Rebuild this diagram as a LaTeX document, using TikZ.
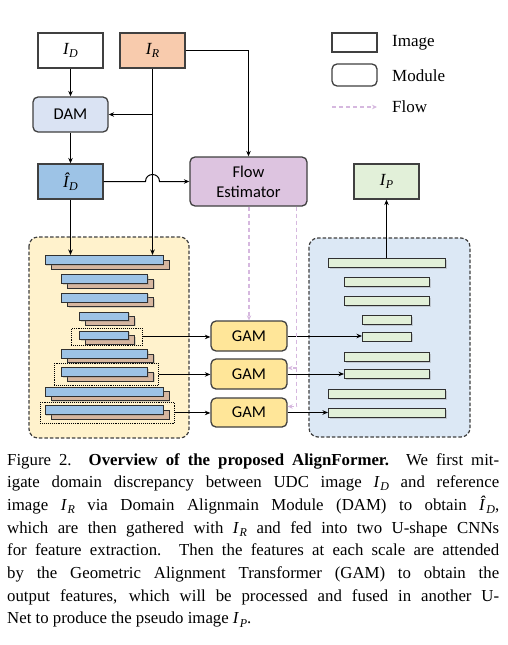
\documentclass[tikz,border=0pt]{standalone}
\usepackage{fontspec}
\setmainfont{Liberation Serif}
\newfontfamily\calibri{Carlito}
\usetikzlibrary{arrows.meta,shadows,calc}
\definecolor{bord}{HTML}{404040}
\definecolor{bord2}{HTML}{303030}
\definecolor{irc}{HTML}{F8CBAD}
\definecolor{damc}{HTML}{DAE3F3}
\definecolor{idhc}{HTML}{9DC3E6}
\definecolor{flowfill}{HTML}{DDC4E0}
\definecolor{gamc}{HTML}{FFE699}
\definecolor{yelc}{HTML}{FFF2CC}
\definecolor{bluec}{HTML}{DCE8F5}
\definecolor{greenc}{HTML}{E2F0D9}
\definecolor{brownc}{HTML}{D6B69F}
\definecolor{flowc}{HTML}{D6B8DF}
\newcommand{\capI}[1]{\textit{I}\kern0.03em\raisebox{-3.2pt}{\fontsize{12}{12}\selectfont\itshape #1}}
\newcommand{\capIh}[1]{\textit{\^{I}}\kern0.03em\raisebox{-3.2pt}{\fontsize{12}{12}\selectfont\itshape #1}}
\newcommand{\boxI}[1]{{\fontsize{17}{17}\selectfont\itshape I}\kern0.03em\raisebox{-3.5pt}{\fontsize{12}{12}\selectfont\itshape #1}}
\newcommand{\boxIh}[1]{{\fontsize{17}{17}\selectfont\itshape \^{I}}\kern0.03em\raisebox{-3.5pt}{\fontsize{12}{12}\selectfont\itshape #1}}
\newcommand{\ebar}[5]{%
  \draw[brownbar] (#2+6.5,#3+5) rectangle ++(#4,#5);
  \node[bluebar, anchor=north west, minimum width=#4pt, minimum height=#5pt] (#1) at (#2,#3) {};}
\newcommand{\gbar}[5]{%
  \node[greenbar, anchor=north west, minimum width=#4pt, minimum height=#5pt] (#1) at (#2,#3) {};}
\begin{document}
\begin{tikzpicture}[x=1pt,y=-1pt,
  >={Stealth[length=5.5pt,width=4.5pt]},
  img/.style={draw=bord, line width=1.3pt, minimum width=65pt, minimum height=35pt, inner sep=0pt},
  mod/.style={img, rounded corners=5pt},
  lab/.style={font=\calibri\fontsize{16.5}{20}\selectfont},
  conn/.style={draw=black, line width=1pt, ->},
  flowln/.style={draw=flowc, line width=1.2pt, dash pattern=on 4pt off 3pt, -{Stealth[length=5pt,width=4.5pt,fill=flowc]}},
  cont/.style={draw=bord, line width=1.2pt, dash pattern=on 3.5pt off 2pt, rounded corners=9pt},
  dotbox/.style={draw=black, line width=0.9pt, densely dotted, inner sep=0pt},
  brownbar/.style={draw=bord2, line width=0.9pt, fill=brownc, drop shadow={shadow xshift=1.3pt, shadow yshift=-1.3pt, opacity=0.3}},
  bluebar/.style={draw=bord2, line width=0.9pt, fill=idhc, inner sep=0pt, drop shadow={shadow xshift=1.3pt, shadow yshift=-1.3pt, opacity=0.3}},
  greenbar/.style={draw=bord2, line width=0.9pt, fill=greenc, inner sep=0pt, drop shadow={shadow xshift=1.3pt, shadow yshift=-1.3pt, opacity=0.3}},
  legtxt/.style={anchor=base west, inner sep=0pt, font=\fontsize{17}{17}\selectfont}
]
\useasboundingbox (0,0) rectangle (508,645);
\fill[white] (0,0) rectangle (508,645);

% containers
\draw[cont, fill=yelc] (29,237) rectangle (189,438);
\draw[cont, fill=bluec] (309,238) rectangle (470,437);

% top nodes
\node[img, fill=white] (ID) at (70.5,50.5) {\boxI{D}};
\node[img, fill=irc] (IR) at (152.5,50.5) {\boxI{R}};
\node[mod, fill=damc, minimum width=75pt, lab] (DAM) at (70.5,114.5) {DAM};
\node[img, fill=idhc] (IDh) at (70.5,181.5) {\boxIh{D}};
\node[mod, fill=flowfill, minimum width=117pt, minimum height=49pt, lab, align=center] (FE) at (248.5,181.5) {Flow\\Estimator};
\node[img, fill=greenc] (IP) at (386.5,181.5) {\boxI{P}};

% GAM modules
\node[mod, fill=gamc, minimum width=76pt, minimum height=30pt, lab] (G1) at (249,336) {GAM};
\node[mod, fill=gamc, minimum width=76pt, minimum height=30pt, lab] (G2) at (249,374) {GAM};
\node[mod, fill=gamc, minimum width=76pt, minimum height=29pt, lab] (G3) at (249,412.5) {GAM};

% encoder bars
\ebar{e1}{44.5}{255}{118}{9}
\ebar{e2}{61}{274}{86}{9}
\ebar{e3}{61}{292.5}{86}{9}
\ebar{e4}{79}{311.5}{49}{8.5}
\ebar{e5}{79}{330.5}{49}{8.5}
\ebar{e6}{61}{349}{86}{8.5}
\ebar{e7}{61}{367}{86}{9}
\ebar{e8}{44.5}{386.5}{118}{9}
\ebar{e9}{44.5}{405}{118}{9}

\node[dotbox, anchor=north west, minimum width=71pt, minimum height=17pt] (d1) at (71,328) {};
\node[dotbox, anchor=north west, minimum width=104pt, minimum height=22pt] (d2) at (54,363) {};
\node[dotbox, anchor=north west, minimum width=134pt, minimum height=21pt] (d3) at (40,402) {};

% decoder bars
\gbar{g1}{328}{258}{117}{9}
\gbar{g2}{344}{277}{85}{9}
\gbar{g3}{344}{296}{85}{9}
\gbar{g4}{362}{315}{49}{9}
\gbar{g5}{362}{332}{49}{8.5}
\gbar{g6}{344}{352}{85}{9}
\gbar{g7}{344}{369}{85}{9}
\gbar{g8}{328}{389}{117}{9}
\gbar{g9}{328}{408}{117}{9}

% connectors
\draw[conn] (ID.south) -- (DAM.north);
\draw[conn] (DAM.south) -- (IDh.north);
\draw[conn] (IR.south) -- (IR.south |- e1.north);
\draw[conn] (IR.south |- DAM.east) -- (DAM.east);
\draw[conn] (IR.east) -| (FE.north);
\draw[conn] (IDh.south) -- (IDh.south |- e1.north);
\coordinate (j1) at ($(IDh.east -| IR.south)+(-7,0)$);
\coordinate (j2) at ($(IDh.east -| IR.south)+(7,0)$);
\draw[conn] (IDh.east) -- (j1) .. controls ($(j1)+(0,-9.3)$) and ($(j2)+(0,-9.3)$) .. (j2) -- (FE.west);

\draw[conn] (d1.east) -- (d1.east -| G1.west);
\draw[conn] (d2.east) -- (d2.east -| G2.west);
\draw[conn] (d3.east) -- (d3.east -| G3.west);
\draw[conn] (G1.east) -- (G1.east -| g5.west);
\draw[conn] (G2.east) -- (G2.east -| g7.west);
\draw[conn] (G3.east) -- (G3.east -| g9.west);
\draw[conn] (g1.north -| IP.south) -- (IP.south);

% flow
\draw[flowln] (G1.north |- FE.south) -- (G1.north);
\coordinate (f2) at ($(FE.south east)+(-11,0)$);
\coordinate (G2in) at ($(G2.east)+(0,-6)$);
\coordinate (G3in) at ($(G3.east)+(0,-6)$);
\draw[flowln] (f2) -- (f2 |- G3in) -- (G3in);
\draw[flowln] (f2 |- G2in) -- (G2in);

% legend
\node[img, fill=white, minimum width=45pt, minimum height=19pt] (limg) at (354.5,42.5) {};
\node[mod, fill=white, minimum width=45pt, minimum height=22pt] (lmod) at (354.5,75) {};
\coordinate (lf1) at (332,107);
\coordinate (lf2) at (377,107);
\draw[flowln] (lf1) -- (lf2);
\node[legtxt] (timg) at (392,46.7) {Image};
\node[legtxt] (tmod) at (392,81) {Module};
\node[legtxt] (tflow) at (392,112.7) {Flow};

% caption
\node[anchor=base west, inner sep=0pt] (cap) at (7,465) {\vtop{\fontsize{16.8}{22.7}\selectfont
\hbox to 492pt{Figure 2. \textbf{Overview of the proposed AlignFormer.} We first mit-}
\hbox to 492pt{igate domain discrepancy between UDC image \capI{D} and reference}
\hbox to 492pt{image \capI{R} via Domain Alignmain Module (DAM) to obtain \capIh{D},}
\hbox to 492pt{which are then gathered with \capI{R} and fed into two U-shape CNNs}
\hbox to 492pt{for feature extraction. Then the features at each scale are attended}
\hbox to 492pt{by the Geometric Alignment Transformer (GAM) to obtain the}
\hbox to 492pt{output features, which will be processed and fused in another U-}
\hbox{Net to produce the pseudo image \capI{P}.}}};
\end{tikzpicture}
\end{document}
